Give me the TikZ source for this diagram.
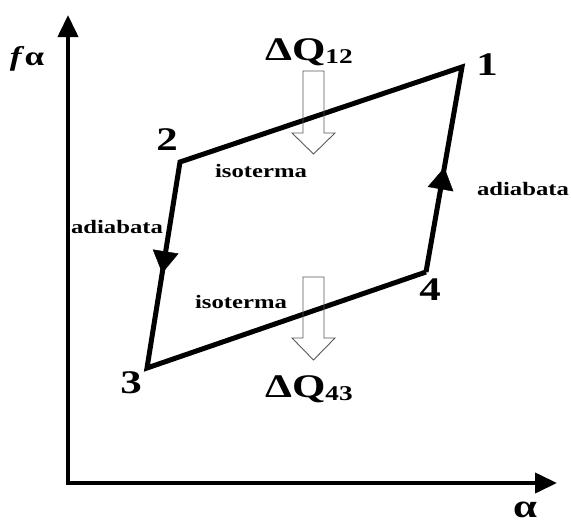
\documentclass[tikz,border=0pt]{standalone}
\usepackage{fontspec}
\setmainfont{Liberation Serif}[FakeStretch=1.3]
\usetikzlibrary{arrows.meta,decorations.markings}

\tikzset{
  axisline/.style={line width=4pt, line join=miter, {Triangle[length=22pt,width=20pt]}-{Triangle[length=22pt,width=20pt]}},
  cycleline/.style={line width=5pt, line join=miter},
  midarrow/.style={postaction={decorate}, decoration={markings,
      mark=at position #1 with {\arrow{Triangle[length=22pt,width=26pt]}}}},
  heatarrow/.style={draw=black!65, line width=0.9pt, line join=miter},
  numlabel/.style={font=\fontsize{33}{36}\selectfont\bfseries, inner sep=0pt, anchor=base},
  txtlabel/.style={font=\fontsize{19}{22}\selectfont\bfseries, inner sep=0pt, anchor=base},
}
\newcommand{\subidx}[1]{\raisebox{-3pt}{\fontsize{21}{22}\selectfont #1}}

\begin{document}
\begin{tikzpicture}[x=1pt, y=-1pt]
        \useasboundingbox (0,0) rectangle (571,525);

        % Axes
        \coordinate (origin) at (68,483);
        \coordinate (ytip) at (68,15);
        \coordinate (xtip) at (557,483);
        \draw[axisline] (ytip) -- (origin) -- (xtip);
        \node[txtlabel, font=\fontsize{27}{30}\selectfont\bfseries] (fa) at (27,65) {\textit{f}α};
        \node[txtlabel, font=\fontsize{33}{36}\selectfont\bfseries] (alpha) at (525,517) {α};

        % Cycle corners
        \coordinate (p1) at (462,67);
        \coordinate (p2) at (180,162);
        \coordinate (p3) at (147,368);
        \coordinate (p4) at (426,272);

        % Isotherms and adiabats
        \draw[cycleline] (p4) -- (p3) -- (p2) -- (p1) -- (p4);
        \path[midarrow=0.54] (p2) -- (p3);
        \path[midarrow=0.51] (p4) -- (p1);

        % Corner numbers
        \node[numlabel] (n1) at (487,75) {1};
        \node[numlabel] (n2) at (167,150) {2};
        \node[numlabel] (n3) at (131,393) {3};
        \node[numlabel] (n4) at (430,300) {4};

        % Curve labels
        \node[txtlabel] (isoup) at (261,177) {isoterma};
        \node[txtlabel] (isolow) at (241,308) {isoterma};
        \node[txtlabel] (adleft) at (117,233) {adiabata};
        \node[txtlabel] (adright) at (523,195) {adiabata};

        % Heat arrows
        \draw[heatarrow] (303,71) -- (324,71) -- (324,133) -- (335,133) -- (313.5,154)
            -- (292,133) -- (303,133) -- cycle;
        \draw[heatarrow] (303,277) -- (324,277) -- (324,338) -- (335,338) -- (313.5,360)
            -- (292,338) -- (303,338) -- cycle;
        \node[numlabel] (q12) at (309,60) {ΔQ\subidx{12}};
        \node[numlabel] (q43) at (309,397) {ΔQ\subidx{43}};
\end{tikzpicture}
\end{document}
